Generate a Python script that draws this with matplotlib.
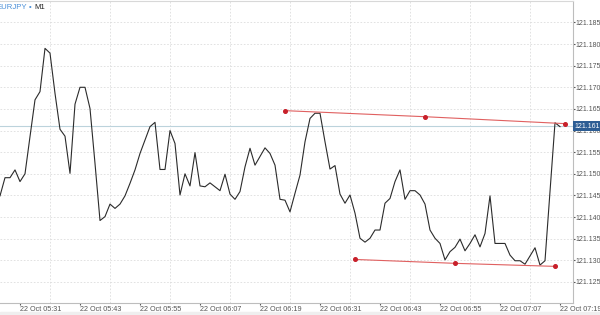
import numpy as np
import matplotlib.pyplot as plt
from matplotlib.patches import Rectangle

# EURJPY M1 closes, one per minute starting 22 Oct 05:27
start_minute = 5 * 60 + 27
prices = [
    121.1449, 121.1491, 121.1491, 121.1509, 121.1482, 121.1500, 121.1586, 121.1671,
    121.1690, 121.1790, 121.1779, 121.1686, 121.1603, 121.1587, 121.1501, 121.1661,
    121.1700, 121.1700, 121.1651, 121.1524, 121.1392, 121.1401, 121.1430, 121.1420,
    121.1430, 121.1449, 121.1478, 121.1509, 121.1547, 121.1578, 121.1609, 121.1619,
    121.1510, 121.1510, 121.1600, 121.1570, 121.1451, 121.1500, 121.1472, 121.1549,
    121.1472, 121.1470, 121.1479, 121.1470, 121.1461, 121.1499, 121.1453, 121.1441,
    121.1459, 121.1516, 121.1559, 121.1520, 121.1540, 121.1560, 121.1547, 121.1520,
    121.1441, 121.1439, 121.1412, 121.1455, 121.1497, 121.1574, 121.1628, 121.1640,
    121.1640, 121.1574, 121.1511, 121.1519, 121.1453, 121.1432, 121.1451, 121.1409,
    121.1351, 121.1342, 121.1351, 121.1370, 121.1370, 121.1432, 121.1443, 121.1482,
    121.1509, 121.1441, 121.1461, 121.1461, 121.1451, 121.1430, 121.1370, 121.1351,
    121.1339, 121.1301, 121.1320, 121.1330, 121.1349, 121.1322, 121.1339, 121.1359,
    121.1331, 121.1362, 121.1449, 121.1339, 121.1339, 121.1339, 121.1312, 121.1299,
    121.1299, 121.1291, 121.1310, 121.1329, 121.1289, 121.1299, 121.1459, 121.1618,
    121.1609,
]
current_price = 121.161

# trend channel drawn on the chart (minute index, price)
upper_x = [57, 85, 113]
upper_y = [121.1646, 121.1632, 121.1616]
lower_x = [71, 91, 111]
lower_y = [121.1302, 121.1293, 121.1286]

time_labels = ["05:31", "05:43", "05:55", "06:07", "06:19", "06:31",
               "06:43", "06:55", "07:07", "07:19"]
price_ticks = [121.125, 121.130, 121.135, 121.140, 121.145, 121.150, 121.155,
               121.160, 121.165, 121.170, 121.175, 121.180, 121.185]

plt.rcParams['font.family'] = ['Liberation Sans', 'DejaVu Sans']


def minute_index(label):
    h, m = label.split(":")
    return int(h) * 60 + int(m) - start_minute


def main():
    fig = plt.figure(figsize=(6, 3.15), dpi=100)
    fig.patches.append(Rectangle((0, 0), 1, 3.5 / 315, transform=fig.transFigure,
                                 color="#efefef", zorder=0))
    ax = fig.add_axes([0, 12.3 / 315, 573 / 600, 1 - 13.3 / 315])

    x = np.arange(len(prices))
    ax.plot(x, prices, color="#2b2b2b", lw=0.8, zorder=3)

    ax.axhline(current_price, color="#bcd3dc", lw=0.8, zorder=2)

    for xs, ys in ((upper_x, upper_y), (lower_x, lower_y)):
        ax.plot(xs, ys, color="#e06060", lw=0.8, zorder=4)
        ax.plot(xs, ys, "o", color="#c8202a", ms=2.6, zorder=5)

    ax.set_xlim(0, 114.6)
    ax.set_ylim(121.1202, 121.18995)

    major = [minute_index(t) for t in time_labels]
    minor = list(range(major[0], 115, 6))
    ax.set_xticks(major)
    ax.set_xticklabels(["22 Oct " + t for t in time_labels], ha="left")
    ax.set_xticks(minor, minor=True)
    ax.tick_params(axis="x", which="major", length=1.5, pad=0.6, labelsize=5.2,
                   colors="#555555", direction="out")
    ax.tick_params(axis="x", which="minor", length=0)

    ax.yaxis.tick_right()
    ax.set_yticks(price_ticks)
    ax.set_yticklabels([f"{p:.3f}" for p in price_ticks])
    ax.tick_params(axis="y", length=1.5, pad=0.6, labelsize=5.0, colors="#555555")

    ax.grid(True, which="minor", axis="x", color="#dddddd", ls=(0, (2, 2)), lw=0.6)
    ax.grid(True, which="major", axis="y", color="#dddddd", ls=(0, (2, 2)), lw=0.6)

    ax.spines["left"].set_visible(False)
    ax.spines["top"].set_color("#d8d8d8")
    ax.spines["right"].set_color("#bdbdbd")
    ax.spines["bottom"].set_color("#bdbdbd")
    for s in ax.spines.values():
        s.set_linewidth(0.8)

    # current price tag on the price scale
    ax.annotate(f"{current_price:.3f}", xy=(1, current_price),
                xycoords=("axes fraction", "data"), xytext=(1.2, 0),
                textcoords="offset points", ha="left", va="center",
                fontsize=5.0, color="white", zorder=10, annotation_clip=False,
                bbox=dict(boxstyle="square,pad=0.2", fc="#2d5d94", ec="none"))

    # symbol caption, clipped at the left edge like the terminal
    ax.text(-0.0055, 0.978, "EURJPY", transform=ax.transAxes, fontsize=5.6,
            color="#4a8fd8", va="center", ha="left")
    ax.text(0.0495, 0.978, "•", transform=ax.transAxes, fontsize=5.6,
            color="#4a8fd8", va="center", ha="left")
    ax.text(0.0595, 0.978, "M1", transform=ax.transAxes, fontsize=5.6,
            color="#222222", va="center", ha="left")

    fig.savefig("out.png", dpi=100)


if __name__ == "__main__":
    main()
